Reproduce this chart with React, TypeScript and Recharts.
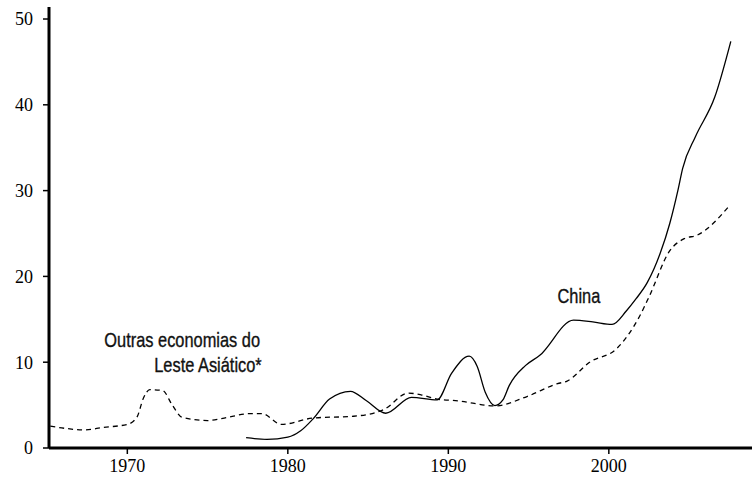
import { LineChart, Line, XAxis, YAxis, ReferenceDot } from "recharts";

// Outras economias do Leste Asiático* (dashed)
const otherYears = [
  1965.2, 1966.3, 1967.3, 1968.5, 1970.0, 1970.6, 1971.0, 1971.4, 1972.2, 1972.8,
  1973.4, 1975.0, 1976.3, 1977.6, 1978.4, 1979.6, 1981.6, 1984.1, 1986.0, 1987.5,
  1988.3, 1989.3, 1990.6, 1992.9, 1994.9, 1996.8, 1997.4, 1998.8, 2000.5, 2001.9,
  2002.5, 2003.8, 2004.7, 2005.5, 2007.5,
];
const otherValues = [
  2.55, 2.25, 2.1, 2.4, 2.75, 3.6, 5.8, 6.8, 6.7, 5.0,
  3.6, 3.2, 3.6, 4.0, 4.0, 2.75, 3.5, 3.7, 4.5, 6.4,
  6.2, 5.7, 5.5, 4.9, 6.0, 7.5, 7.8, 10.0, 11.6, 15.3,
  17.6, 23.0, 24.4, 24.8, 28.2,
];

// China (solid)
const chinaYears = [
  1977.4, 1978.7, 1980.0, 1980.8, 1981.6, 1982.6, 1983.9, 1984.9, 1986.1, 1987.7,
  1989.3, 1990.2, 1991.3, 1991.8, 1992.3, 1992.9, 1993.4, 1993.8, 1994.8, 1995.7,
  1997.8, 1999.0, 2000.2, 2001.1, 2001.7, 2002.4, 2003.2, 2003.8, 2004.3, 2004.6,
  2005.4, 2006.6, 2007.6,
];
const chinaValues = [
  1.2, 1.0, 1.26, 2.0, 3.45, 5.7, 6.6, 5.5, 4.05, 5.9,
  5.6, 8.7, 10.7, 9.5, 6.5, 4.95, 5.6, 7.3, 9.6, 10.8,
  14.9, 14.7, 14.4, 16.0, 17.4, 19.3, 22.7, 26.2, 30.0, 32.6,
  36.3, 40.9, 47.4,
];

const xTicks = [1970, 1980, 1990, 2000];
const yTicks = [0, 10, 20, 30, 40, 50];

const otherData = otherYears.map((year, i) => ({ year, value: otherValues[i] }));
const chinaData = chinaYears.map((year, i) => ({ year, value: chinaValues[i] }));

const tickFont = { fontFamily: "'Liberation Serif', 'DejaVu Serif', serif", fontSize: 18, fill: "#000" };
const labelFont = "'Liberation Sans', Arial, sans-serif";

// no narrow font installed, so squeeze the sans horizontally
const NarrowText = ({ x, y, anchor, lines }: any) => (
  <g transform={`translate(${x},${y}) scale(0.82,1)`}>
    <text
      x={0}
      y={0}
      textAnchor={anchor}
      fontFamily={labelFont}
      fontSize={20}
      fill="#111"
      stroke="#111"
      strokeWidth={0.35}
    >
      {lines.map((l: string, i: number) => (
        <tspan key={i} x={i === 0 ? 0 : 2} dy={i === 0 ? 0 : 25}>
          {l}
        </tspan>
      ))}
    </text>
  </g>
);

const OtherLabel = ({ viewBox }: any) => (
  <NarrowText
    x={viewBox.cx ?? viewBox.x}
    y={viewBox.cy ?? viewBox.y}
    anchor="end"
    lines={["Outras economias do", "Leste Asiático*"]}
  />
);

const ChinaLabel = ({ viewBox }: any) => (
  <NarrowText x={viewBox.cx ?? viewBox.x} y={viewBox.cy ?? viewBox.y} anchor="start" lines={["China"]} />
);

export default function App() {
  return (
    <div style={{ position: "absolute", left: 0, top: 0, width: 752, height: 479, background: "#fff" }}>
      <LineChart width={752} height={479} margin={{ top: 7, right: 0, bottom: 0, left: 0 }}>
        <XAxis
          dataKey="year"
          type="number"
          domain={[1965.12, 2008.92]}
          allowDataOverflow
          ticks={xTicks}
          height={31}
          tickSize={6}
          tickMargin={5}
          axisLine={{ stroke: "#000", strokeWidth: 3 }}
          tickLine={{ stroke: "#000", strokeWidth: 1.5 }}
          tick={tickFont}
        />
        <YAxis
          type="number"
          domain={[0, 51.4]}
          allowDataOverflow
          ticks={yTicks}
          width={49}
          tickSize={6}
          tickMargin={10}
          axisLine={{ stroke: "#000", strokeWidth: 3 }}
          tickLine={{ stroke: "#000", strokeWidth: 1.5 }}
          tick={tickFont}
        />
        <Line
          data={otherData}
          dataKey="value"
          type="monotone"
          stroke="#000"
          strokeWidth={1.3}
          strokeDasharray="5 4"
          dot={false}
          isAnimationActive={false}
        />
        <Line
          data={chinaData}
          dataKey="value"
          type="monotone"
          stroke="#000"
          strokeWidth={1.3}
          dot={false}
          isAnimationActive={false}
        />
        <ReferenceDot x={1978.27} y={11.73} r={0} fill="none" stroke="none" label={<OtherLabel />} />
        <ReferenceDot x={1996.8} y={16.86} r={0} fill="none" stroke="none" label={<ChinaLabel />} />
      </LineChart>
    </div>
  );
}
